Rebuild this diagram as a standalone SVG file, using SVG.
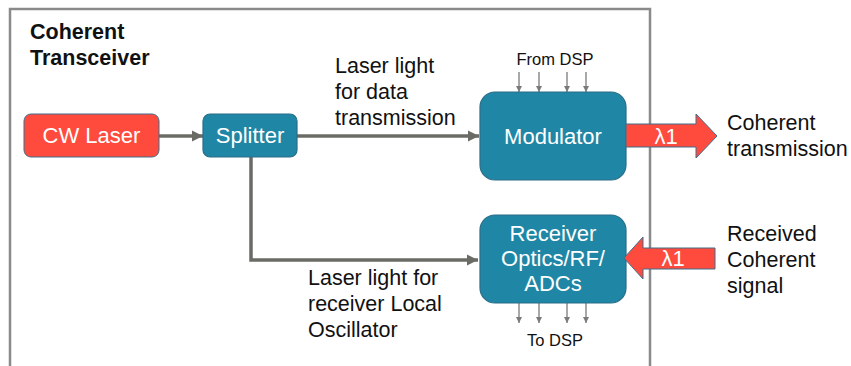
<svg xmlns="http://www.w3.org/2000/svg" width="851" height="366" viewBox="0 0 851 366">
<style>
text{font-family:"Liberation Sans",Arial,sans-serif;fill:#111}
.box{fill:#1f87a5;stroke:#2a6d87;stroke-width:1.2}
.red{fill:#ff4a3e;stroke:#3f6f8a;stroke-width:1}
.wt{fill:#fff;font-size:22px;text-anchor:middle}
.lbl{font-size:21.5px}
.conn{fill:none;stroke:#6b6b66;stroke-width:3.5}
.dsp{stroke:#7a7a7a;stroke-width:1.3;fill:none}
.small{font-size:16.5px;text-anchor:middle}
</style>
<defs>
<marker id="ah" viewBox="0 0 10 10" refX="10" refY="5" markerWidth="3.2" markerHeight="3.2" orient="auto" markerUnits="strokeWidth">
<path d="M0,0 L10,5 L0,10 z" fill="#6b6b66"/>
</marker>
<marker id="sh" viewBox="0 0 10 10" refX="10" refY="5" markerWidth="5" markerHeight="5" orient="auto" markerUnits="strokeWidth">
<path d="M0,0 L10,5 L0,10 z" fill="#7a7a7a"/>
</marker>
</defs>
<rect x="10" y="9" width="640" height="380" fill="none" stroke="#8a8a8a" stroke-width="2.5"/>
<g id="title">
<text x="30" y="39" font-size="21.5" font-weight="bold">Coherent</text>
<text x="30" y="65" font-size="21.5" font-weight="bold">Transceiver</text>
</g>
<g id="connectors">
<path class="conn" d="M159,136 H203" marker-end="url(#ah)"/>
<path class="conn" d="M297,136 H479" marker-end="url(#ah)"/>
<path class="conn" d="M251,157 V260 H478" marker-end="url(#ah)"/>
<line class="dsp" x1="519" y1="72" x2="519" y2="92" marker-end="url(#sh)"/>
<line class="dsp" x1="539" y1="72" x2="539" y2="92" marker-end="url(#sh)"/>
<line class="dsp" x1="567" y1="72" x2="567" y2="92" marker-end="url(#sh)"/>
<line class="dsp" x1="586" y1="72" x2="586" y2="92" marker-end="url(#sh)"/>
<line class="dsp" x1="519" y1="303" x2="519" y2="323" marker-end="url(#sh)"/>
<line class="dsp" x1="539" y1="303" x2="539" y2="323" marker-end="url(#sh)"/>
<line class="dsp" x1="567" y1="303" x2="567" y2="323" marker-end="url(#sh)"/>
<line class="dsp" x1="586" y1="303" x2="586" y2="323" marker-end="url(#sh)"/>
</g>
<g id="cw-laser">
<rect class="red" x="24" y="114" width="135" height="43" rx="7"/>
<text class="wt" x="91.5" y="143">CW Laser</text>
</g>
<g id="splitter">
<rect class="box" x="203" y="114" width="94" height="43" rx="7"/>
<text class="wt" x="250" y="143">Splitter</text>
</g>
<g id="modulator">
<rect class="box" x="480" y="92" width="146" height="88" rx="15"/>
<text class="wt" x="553" y="144">Modulator</text>
</g>
<g id="receiver">
<rect class="box" x="480" y="215" width="146" height="88" rx="15"/>
<text class="wt" x="553" y="241">Receiver</text>
<text class="wt" x="553" y="266">Optics/RF/</text>
<text class="wt" x="553" y="291">ADCs</text>
</g>
<g id="tx-arrow">
<path class="red" d="M626,124 H696 V114 L717,136 L696,158 V147 H626 Z"/>
<text class="wt" x="666" y="144">λ1</text>
</g>
<g id="rx-arrow">
<path class="red" d="M715,248 H643 V237 L624,258 L643,279 V269 H715 Z"/>
<text class="wt" x="673" y="266">λ1</text>
</g>
<g id="labels">
<text class="small" x="555" y="65">From DSP</text>
<text class="small" x="555" y="346">To DSP</text>
<text class="lbl" x="335" y="73">Laser light</text>
<text class="lbl" x="335" y="99">for data</text>
<text class="lbl" x="335" y="125">transmission</text>
<text class="lbl" x="308" y="285">Laser light for</text>
<text class="lbl" x="308" y="311">receiver Local</text>
<text class="lbl" x="308" y="337">Oscillator</text>
<text class="lbl" x="727" y="130">Coherent</text>
<text class="lbl" x="727" y="156">transmission</text>
<text class="lbl" x="727" y="241">Received</text>
<text class="lbl" x="727" y="267">Coherent</text>
<text class="lbl" x="727" y="293">signal</text>
</g>
</svg>
